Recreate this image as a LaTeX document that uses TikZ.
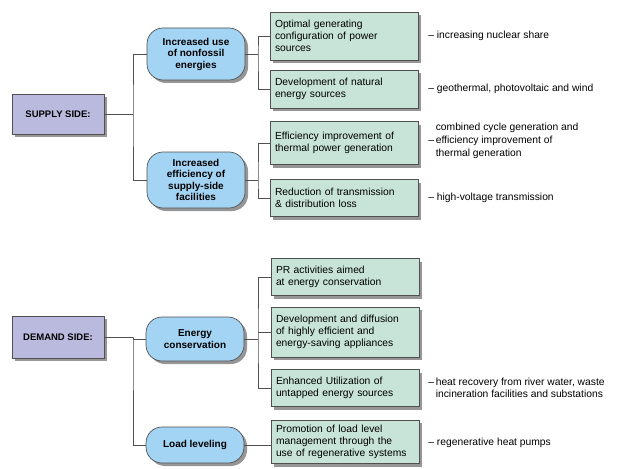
\documentclass[tikz,border=0pt]{standalone}
\usepackage{fontspec}
\setmainfont{Liberation Sans}
\usetikzlibrary{shadows}

\definecolor{sidefill}{RGB}{186,186,222}
\definecolor{goalfill}{RGB}{164,212,244}
\definecolor{measurefill}{RGB}{200,228,216}
\definecolor{linegray}{RGB}{80,80,80}
\definecolor{shadowgray}{RGB}{150,150,150}

\begin{document}
\begin{tikzpicture}[x=1pt,y=-1pt,thick,
    line width=0.7pt,
    my shadow/.style={drop shadow={shadow xshift=3pt,shadow yshift=-3pt,fill=shadowgray,opacity=1}},
    side node/.style={rectangle,draw=linegray,fill=sidefill,my shadow,
      minimum width=92pt,minimum height=40pt,
      font=\fontsize{9.5}{11}\selectfont\bfseries},
    goal node/.style={rectangle,rounded corners=16pt,draw=linegray,fill=goalfill,my shadow,
      minimum width=98pt,align=center,inner sep=2pt,
      font=\fontsize{10}{11.5}\selectfont\bfseries},
    measure node/.style={rectangle,draw=linegray,fill=measurefill,my shadow,
      text width=138pt,inner sep=5pt,align=left,
      font=\fontsize{10.3}{12}\selectfont},
    note node/.style={anchor=west,align=left,inner sep=0pt,
      font=\fontsize{10.3}{12}\selectfont},
    link/.style={draw=linegray,line width=0.7pt}]

  \useasboundingbox (0,0) rectangle (636,468);

  % supply side
  \node[side node] (supply) at (58,114) {SUPPLY SIDE:};
  \node[goal node,minimum height=52pt] (s1) at (196,54) {Increased use\\of nonfossil\\energies};
  \node[goal node,minimum height=56pt] (s2) at (196,180) {Increased\\efficiency of\\supply-side\\facilities};

  \node[measure node,minimum height=48pt] (g1) at (344,36) {Optimal generating\\configuration of power\\sources};
  \node[measure node,minimum height=38pt] (g2) at (344,89) {Development of natural\\energy sources};
  \node[measure node,minimum height=43pt] (g3) at (344,143) {Efficiency improvement of\\thermal power generation};
  \node[measure node,minimum height=37pt] (g4) at (344,198) {Reduction of transmission\\\& distribution loss};

  \node[note node] (n1) at (428,36) {-- increasing nuclear share};
  \node[note node] (n2) at (428,89) {-- geothermal, photovoltaic and wind};
  \node[note node] (n3) at (428,141) {\begin{tabular}{@{}l@{\,}l@{}}
      & combined cycle generation and\\[1pt]
      -- & efficiency improvement of\\[1pt]
      & thermal generation\end{tabular}};
  \node[note node] (n4) at (428,198) {-- high-voltage transmission};

  \coordinate (sj) at (133,114);
  \coordinate (s1j) at (258,54);
  \coordinate (s2j) at (258,180);

  \path[link] (supply.east) -- (sj);
  \path[link] (s1.west) -| (sj) |- (s2.west);
  \path[link] (s1.east) -- (s1j);
  \path[link] (g1.west) -| (s1j) |- (g2.west);
  \path[link] (s2.east) -- (s2j);
  \path[link] (g3.west) -| (s2j) |- (g4.west);

  % demand side
  \node[side node,minimum height=42pt] (demand) at (58,337) {DEMAND SIDE:};
  \node[goal node,minimum height=44pt] (d1) at (195,339) {Energy\\conservation};
  \node[goal node,minimum height=36pt] (d2) at (195,445) {Load leveling};

  \node[measure node,minimum height=37pt] (h1) at (345,277) {PR activities aimed\\at energy conservation};
  \node[measure node,minimum height=50pt] (h2) at (345,332) {Development and diffusion\\of highly efficient and\\energy-saving appliances};
  \node[measure node,minimum height=37pt] (h3) at (345,388) {Enhanced Utilization of\\untapped energy sources};
  \node[measure node,minimum height=43pt] (h4) at (345,442) {Promotion of load level\\management through the\\use of regenerative systems};

  \node[note node] (m3) at (428,389) {\begin{tabular}{@{}l@{\,}l@{}}
      -- & heat recovery from river water, waste\\
      & incineration facilities and substations\end{tabular}};
  \node[note node] (m4) at (428,443) {-- regenerative heat pumps};

  \coordinate (dj) at (133,337);
  \coordinate (d1j) at (258,339);

  \path[link] (demand.east) -- (dj);
  \path[link] (d1.west) -| (dj) |- (d2.west);
  \path[link] (d1.east) -- (d1j);
  \path[link] (h1.west) -| (d1j) |- (h3.west);
  \path[link] (h2.west) -- (h2.west -| d1j);
  \path[link] (d2.east) -- (d2.east -| h4.west);
\end{tikzpicture}
\end{document}
